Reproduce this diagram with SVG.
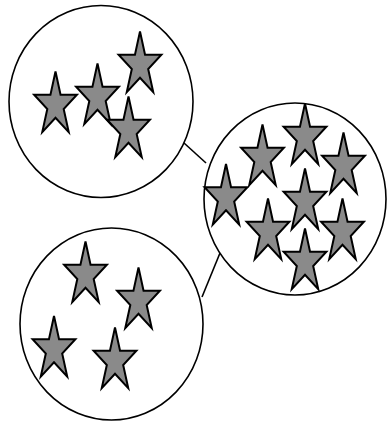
<svg xmlns="http://www.w3.org/2000/svg" xmlns:xlink="http://www.w3.org/1999/xlink" width="388" height="421" viewBox="0 0 388 421">
<style>
.bubble{fill:#fff;stroke:#000;stroke-width:1.6}
.conn{stroke:#000;stroke-width:1.6;fill:none}
.star{fill:#8a8a8a;stroke:#000;stroke-width:2;stroke-linejoin:miter}
</style>
<defs>
<path id="star" class="star" d="M0,-33.5 L5.05,-10.35 L21.4,-10.35 L8.18,3.96 L13.23,27.1 L0,12.8 L-13.23,27.1 L-8.18,3.96 L-21.4,-10.35 L-5.05,-10.35 Z"/>
</defs>
<rect width="388" height="421" fill="#fff"/>
<g id="connectors">
<line class="conn" x1="184" y1="143" x2="206" y2="163"/>
<line class="conn" x1="220" y1="253" x2="202" y2="297"/>
</g>
<g id="group-top">
<ellipse class="bubble" cx="101" cy="101.5" rx="92" ry="96"/>
<use xlink:href="#star" x="55.5" y="105"/>
<use xlink:href="#star" x="97.5" y="97"/>
<use xlink:href="#star" x="140" y="65"/>
<use xlink:href="#star" x="128.5" y="130"/>
</g>
<g id="group-right">
<ellipse class="bubble" cx="295" cy="199" rx="91" ry="96"/>
<use xlink:href="#star" x="226" y="197.5"/>
<use xlink:href="#star" x="262.5" y="158"/>
<use xlink:href="#star" x="305" y="137"/>
<use xlink:href="#star" x="343.5" y="166"/>
<use xlink:href="#star" x="305" y="202"/>
<use xlink:href="#star" x="268" y="232"/>
<use xlink:href="#star" x="342.5" y="232"/>
<use xlink:href="#star" x="305" y="262"/>
</g>
<g id="group-bottom">
<ellipse class="bubble" cx="111.5" cy="324" rx="91.5" ry="96"/>
<use xlink:href="#star" x="85.5" y="275"/>
<use xlink:href="#star" x="138.5" y="301"/>
<use xlink:href="#star" x="54" y="349.5"/>
<use xlink:href="#star" x="115" y="361"/>
</g>
</svg>
